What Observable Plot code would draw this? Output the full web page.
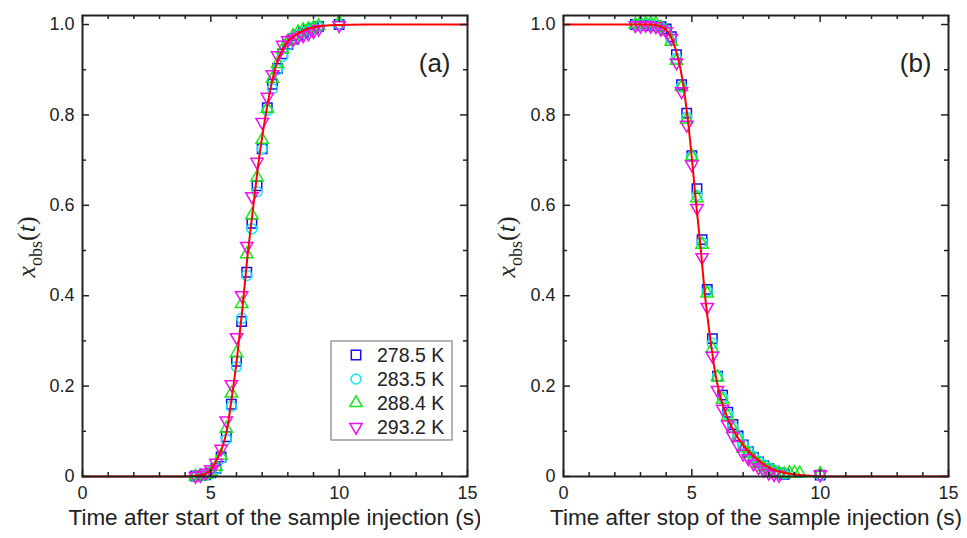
<!DOCTYPE html>
<html>
<head>
<meta charset="utf-8">
<script src="https://cdn.jsdelivr.net/npm/d3@7"></script>
<script src="https://cdn.jsdelivr.net/npm/@observablehq/plot@0.6"></script>
<style>
  html, body { margin: 0; padding: 0; background: #fff; }
  #wrap { display: flex; flex-direction: row; width: 967px; height: 538px; }
  #wrap svg { overflow: visible; }
</style>
</head>
<body>
<div id="wrap"></div>
<script>
// ---------- data ----------
const seriesNames = ["278.5 K", "283.5 K", "288.4 K", "293.2 K"];
const seriesColors = ["#1010ee", "#10e8f8", "#18e818", "#f010f0"];
const seriesSymbols = ["square", "circle", "triangle", "triangle"];
const seriesRotate = [0, 0, 0, 180];

// panel (a): time after start of the sample injection
const tA = [4.4, 4.6, 4.8, 5.0, 5.2, 5.4, 5.6, 5.8, 6.0, 6.2, 6.4, 6.6, 6.8, 7.0, 7.2, 7.4, 7.6, 7.8, 8.0, 8.2, 8.4, 8.6, 8.8, 9.0, 9.2, 10.0];
const sqA  = [0.001, 0.002, 0.004, 0.008, 0.018, 0.043, 0.088, 0.160, 0.255, 0.343, 0.452, 0.560, 0.643, 0.725, 0.816, 0.868, 0.903, 0.935, 0.956, 0.968, 0.976, 0.982, 0.987, 0.992, 0.996, 1.000];
const ciA  = [0.001, 0.002, 0.003, 0.007, 0.016, 0.040, 0.082, 0.155, 0.243, 0.350, 0.445, 0.548, 0.630, 0.725, 0.810, 0.858, 0.900, 0.930, 0.955, 0.968, 0.977, 0.983, 0.988, 0.993, 0.996, 1.000];
const trA  = [0.000, 0.001, 0.004, 0.010, 0.022, 0.046, 0.106, 0.184, 0.273, 0.382, 0.492, 0.578, 0.662, 0.745, 0.814, 0.880, 0.913, 0.945, 0.962, 0.975, 0.983, 0.988, 0.990, 0.993, 0.997, 1.005];
const tdA  = [0.001, 0.003, 0.008, 0.016, 0.030, 0.061, 0.124, 0.204, 0.308, 0.401, 0.510, 0.620, 0.696, 0.784, 0.840, 0.890, 0.932, 0.955, 0.965, 0.968, 0.972, 0.976, 0.980, 0.985, 0.990, 0.998];
const fitAT = [0, 4.0, 4.4, 4.8, 5.0, 5.25, 5.44, 5.61, 5.83, 6.02, 6.22, 6.41, 6.68, 6.87, 7.06, 7.26, 7.52, 7.84, 8.36, 9.0, 9.9, 11, 15];
const fitAV = [0, 0, 0.001, 0.006, 0.015, 0.039, 0.064, 0.098, 0.180, 0.262, 0.366, 0.477, 0.610, 0.700, 0.773, 0.839, 0.906, 0.950, 0.979, 0.994, 0.999, 1.0, 1.0];

// panel (b): time after stop of the sample injection
const tB = [2.8, 3.0, 3.2, 3.4, 3.6, 3.8, 4.0, 4.2, 4.4, 4.6, 4.8, 5.0, 5.2, 5.4, 5.6, 5.8, 6.0, 6.2, 6.4, 6.6, 6.8, 7.0, 7.2, 7.4, 7.6, 7.8, 8.0, 8.2, 8.4, 8.6, 8.8, 9.0, 9.2, 10.0];
const sqB = [1.000, 0.999, 1.000, 0.998, 0.997, 0.995, 0.990, 0.973, 0.933, 0.867, 0.804, 0.710, 0.637, 0.524, 0.414, 0.305, 0.222, 0.180, 0.142, 0.115, 0.090, 0.070, 0.055, 0.042, 0.032, 0.024, 0.017, 0.012, 0.008, 0.005, null, null, null, 0.003];
const ciB = [1.000, 1.000, 1.000, 0.999, 0.998, 0.994, 0.988, 0.968, 0.925, 0.862, 0.795, 0.708, 0.622, 0.518, 0.410, 0.295, 0.222, 0.175, 0.138, 0.110, 0.088, 0.070, 0.056, 0.044, 0.034, 0.026, 0.019, 0.013, 0.009, 0.006, null, null, null, 0.003];
const trB = [1.000, 1.003, 1.002, 1.003, 1.002, 0.993, 0.985, 0.962, 0.920, 0.862, 0.790, 0.708, 0.616, 0.513, 0.405, 0.283, 0.220, 0.170, 0.133, 0.105, 0.085, 0.062, 0.050, 0.038, 0.027, 0.020, 0.014, 0.010, 0.007, 0.005, 0.008, 0.008, 0.007, 0.006];
const tdB = [0.998, 0.997, 0.999, 0.997, 0.996, 0.990, 0.985, 0.970, 0.916, 0.852, 0.778, 0.690, 0.594, 0.485, 0.375, 0.267, 0.191, 0.150, 0.115, 0.090, 0.070, 0.050, 0.040, 0.028, 0.020, 0.014, 0.008, 0.005, 0.003, null, null, null, null, 0.004];
const fitBT = [0, 3.4, 3.78, 4.04, 4.36, 4.56, 4.75, 4.95, 5.14, 5.34, 5.53, 5.73, 5.92, 6.12, 6.4, 6.77, 7.1, 7.41, 7.8, 8.06, 8.7, 9.5, 10.2, 15];
const fitBV = [1, 1, 0.996, 0.986, 0.947, 0.901, 0.833, 0.734, 0.620, 0.507, 0.392, 0.300, 0.226, 0.175, 0.128, 0.088, 0.062, 0.045, 0.027, 0.018, 0.007, 0.002, 0.0, 0];

// axis ticks
const xMajor = [0, 5, 10, 15];
const xMinor = [1, 2, 3, 4, 6, 7, 8, 9, 11, 12, 13, 14];
const yMajor = [0, 0.2, 0.4, 0.6, 0.8, 1.0];
const yMinor = [0.1, 0.3, 0.5, 0.7, 0.9];
const xLabelA = "Time after start of the sample injection (s)";
const xLabelB = "Time after stop of the sample injection (s)";

// ---------- drawing ----------
const H = 538, MT = 15, MB = 62;
const FONT = "'Liberation Sans', Arial, sans-serif";

function panel({width, ml, mr, t, series, fitT, fitV, tag, xLabel}) {
  const ih = H - MT - MB, iw = width - ml - mr;
  const dotMarks = series.map((vals, k) => {
    const rows = t.map((tt, i) => ({t: tt, v: vals[i]})).filter(d => d.v != null);
    return Plot.dot(rows, {
      x: "t", y: "v", symbol: seriesSymbols[k], rotate: seriesRotate[k],
      r: k === 1 ? 5 : (k === 0 ? 5.3 : 4.6),
      stroke: seriesColors[k], fill: "none", strokeWidth: 1.5
    });
  });
  const fit = fitT.map((tt, i) => ({t: tt, v: fitV[i]}));
  const tk = {stroke: "#222", strokeWidth: 1.5};
  return Plot.plot({
    width, height: H, marginLeft: ml, marginRight: mr, marginTop: MT, marginBottom: MB,
    style: {fontFamily: FONT, color: "#222", background: "white", overflow: "visible"},
    x: {domain: [0, 15]},
    y: {domain: [0, 1.02]},
    marks: [
      ...dotMarks,
      Plot.line(fit, {x: "t", y: "v", stroke: "#ff0000", strokeWidth: 2, curve: "monotone-x"}),
      Plot.frame({stroke: "#222", strokeWidth: 2}),
      // inward ticks on all four sides
      Plot.tickX(xMajor, {x: d => d, insetTop: ih - 7, ...tk}),
      Plot.tickX(xMinor, {x: d => d, insetTop: ih - 4, ...tk}),
      Plot.tickX(xMajor, {x: d => d, insetBottom: ih - 7, ...tk}),
      Plot.tickX(xMinor, {x: d => d, insetBottom: ih - 4, ...tk}),
      Plot.tickY(yMajor, {y: d => d, insetRight: iw - 7, ...tk}),
      Plot.tickY(yMinor, {y: d => d, insetRight: iw - 4, ...tk}),
      Plot.tickY(yMajor, {y: d => d, insetLeft: iw - 7, ...tk}),
      Plot.tickY(yMinor, {y: d => d, insetLeft: iw - 4, ...tk}),
      Plot.axisX(xMajor, {tickSize: 0, tickPadding: 10, fontSize: 18, label: null, tickFormat: d => String(d)}),
      Plot.axisY(yMajor, {tickSize: 0, tickPadding: 8, fontSize: 18, label: null, tickFormat: d => d === 0 ? "0" : d.toFixed(1)}),
      Plot.text([xLabel], {text: d => d, frameAnchor: "bottom", dy: 48, fontSize: 22.5, fill: "#222"}),
      Plot.text([tag], {text: d => d, frameAnchor: "top-right", textAnchor: "end", dx: -17, dy: 38, fontSize: 26, fill: "#222"})
    ]
  });
}

function addYLabel(svg) {
  const g = d3.select(svg).append("text")
    .attr("transform", "translate(35,247) rotate(-90)")
    .attr("text-anchor", "middle")
    .attr("fill", "#222")
    .style("font-family", "'Liberation Serif', 'Times New Roman', serif")
    .style("font-size", "26px");
  g.append("tspan").style("font-style", "italic").text("x");
  g.append("tspan").style("font-size", "18px").attr("dy", "6.5").text("obs");
  g.append("tspan").attr("dy", "-6.5").text("(");
  g.append("tspan").style("font-style", "italic").text("t");
  g.append("tspan").text(")");
}

function addLegend(svg) {
  const g = d3.select(svg).append("g");
  g.append("rect").attr("x", 331).attr("y", 341).attr("width", 121).attr("height", 99)
    .attr("fill", "white").attr("stroke", "#808080").attr("stroke-width", 1.2);
  const symMap = {square: d3.symbolSquare, circle: d3.symbolCircle, triangle: d3.symbolTriangle};
  const sizes = [5.3, 5, 4.6, 4.6];
  seriesNames.forEach((name, k) => {
    const y = 355 + 24 * k;
    g.append("path")
      .attr("d", d3.symbol(symMap[seriesSymbols[k]], Math.PI * sizes[k] * sizes[k])())
      .attr("transform", `translate(356,${y}) rotate(${seriesRotate[k]})`)
      .attr("fill", "none").attr("stroke", seriesColors[k]).attr("stroke-width", 1.5);
    g.append("text").attr("x", 377).attr("y", y).attr("dy", "0.35em")
      .attr("text-anchor", "start")
      .attr("fill", "#222").style("font-family", FONT).style("font-size", "19.5px").text(name);
  });
}

const wrap = document.getElementById("wrap");
const svgA = panel({width: 480, ml: 82, mr: 13, t: tA, series: [sqA, ciA, trA, tdA], fitT: fitAT, fitV: fitAV, tag: "(a)", xLabel: xLabelA});
const svgB = panel({width: 487, ml: 83, mr: 19, t: tB, series: [sqB, ciB, trB, tdB], fitT: fitBT, fitV: fitBV, tag: "(b)", xLabel: xLabelB});
addYLabel(svgA);
addYLabel(svgB);
addLegend(svgA);
wrap.appendChild(svgA);
wrap.appendChild(svgB);
</script>
</body>
</html>
